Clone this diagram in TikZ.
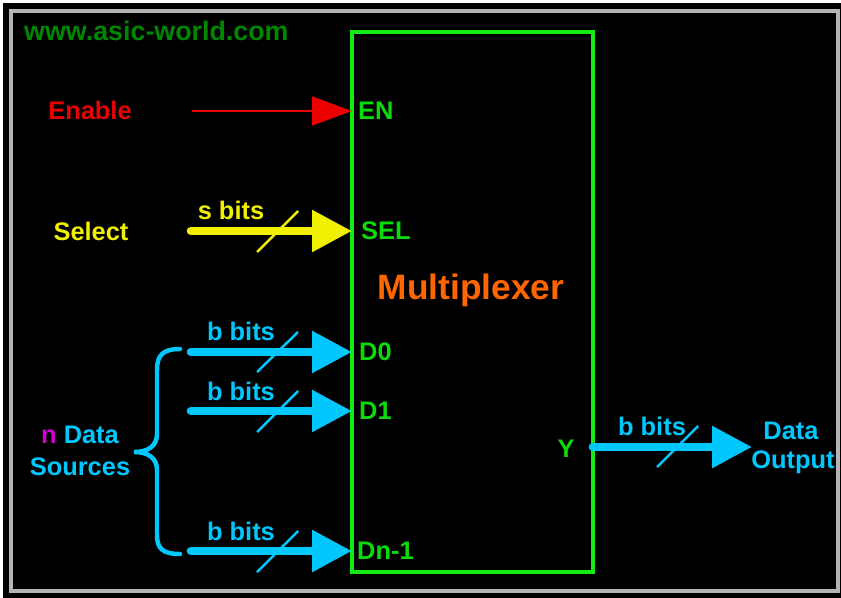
\documentclass[tikz,border=0pt]{standalone}
\usepackage{fontspec}
\setmainfont{Liberation Sans}
\usetikzlibrary{arrows.meta}
\definecolor{mgreen}{RGB}{20,235,20}
\definecolor{pgreen}{RGB}{10,220,10}
\definecolor{urlgreen}{RGB}{0,135,0}
\definecolor{mred}{RGB}{235,0,0}
\definecolor{myellow}{RGB}{240,240,0}
\definecolor{mcyan}{RGB}{0,200,255}
\definecolor{morange}{RGB}{255,102,0}
\definecolor{mmag}{RGB}{210,0,210}
\definecolor{fgray}{RGB}{180,180,180}
\begin{document}
\begin{tikzpicture}[x=0.85pt,y=-0.85pt,
  lbl/.style={font=\fontsize{21.6}{24}\selectfont\bfseries, inner sep=0pt},
  pinlbl/.style={lbl, text=pgreen, anchor=west},
  bus/.style={line width=7.4pt, line cap=round, -{Triangle[length=34pt,width=34pt]}},
  enarrow/.style={line width=1.7pt, draw=mred, -{Triangle[length=34pt,width=24.6pt]}},
  slash/.style={line width=2.1pt},
  bitlbl/.style={lbl, text=mcyan}]
\useasboundingbox (0,0) rectangle (841,598);
\fill[white] (0,0) rectangle (841,598);
\fill[black] (3,3) rectangle (841,598);
\draw[fgray, line width=4.2pt] (11,11) rectangle (838,591);

% url
\node[lbl, text=urlgreen, anchor=west, font=\fontsize{22.8}{24}\selectfont\bfseries] (url) at (24,31) {www.asic-world.com};

% mux box
\node[draw=mgreen, line width=3.4pt, minimum width=204.85pt, minimum height=459pt, inner sep=0pt] (mux) at (472.5,302) {};
\node[lbl, text=morange, font=\fontsize{30}{32}\selectfont\bfseries] (title) at (471,290) {Multiplexer};

% pins
\coordinate (pEN) at (352,111);
\coordinate (pSEL) at (352,231);
\coordinate (pD0) at (352,352);
\coordinate (pD1) at (352,411);
\coordinate (pDn) at (352,551);
\coordinate (pY) at (593,447);
\node[pinlbl] (lEN) at (358,111) {EN};
\node[pinlbl] (lSEL) at (361,231) {SEL};
\node[pinlbl] (lD0) at (359,352) {D0};
\node[pinlbl] (lD1) at (359,411) {D1};
\node[pinlbl] (lDn) at (357,551) {Dn-1};
\node[lbl, text=pgreen] (lY) at (566,449) {Y};

% sources
\coordinate (sEN) at (192,111);
\coordinate (sSEL) at (191,231);
\coordinate (sD0) at (191,352);
\coordinate (sD1) at (191,411);
\coordinate (sDn) at (191,551);
\coordinate (eY) at (752,447);

\node[lbl, text=mred] (enable) at (90,110) {Enable};
\node[lbl, text=myellow] (select) at (91,231) {Select};

% arrows
\draw[enarrow] (sEN) -- (pEN);
\draw[bus, draw=myellow, fill=myellow] (sSEL) -- (pSEL);
\draw[bus, draw=mcyan] (sD0) -- (pD0);
\draw[bus, draw=mcyan] (sD1) -- (pD1);
\draw[bus, draw=mcyan] (sDn) -- (pDn);
\draw[bus, draw=mcyan] (pY) -- (eY);

% slashes
\draw[slash, myellow] (257,252) -- (298,211);
\draw[slash, mcyan] (257,372) -- (298,332);
\draw[slash, mcyan] (257,432) -- (298,391);
\draw[slash, mcyan] (257,572) -- (298,531);
\draw[slash, mcyan] (657,467) -- (698,426);

% bit labels
\node[lbl, text=myellow] (sbits) at (231,210) {s bits};
\node[bitlbl] (b0) at (241,331) {b bits};
\node[bitlbl] (b1) at (241,391) {b bits};
\node[bitlbl] (bn) at (241,531) {b bits};
\node[bitlbl] (by) at (652,426) {b bits};

% output label
\node[bitlbl] (dout1) at (791,431) {Data};
\node[bitlbl, anchor=north] (dout2) at (793,451) {Output};

% brace
\draw[mcyan, line width=3.8pt, line cap=round]
  (180,349) .. controls (162,349) and (157,356) .. (157,370)
  -- (157,434) .. controls (157,446) and (148,452) .. (134,452)
  .. controls (148,452) and (157,458) .. (157,470)
  -- (157,535) .. controls (157,548) and (162,554) .. (180,554);

\node[bitlbl] (ndata) at (80,435) {\textcolor{mmag}{n} Data};
\node[bitlbl] (sources) at (80,467) {Sources};
\end{tikzpicture}
\end{document}
